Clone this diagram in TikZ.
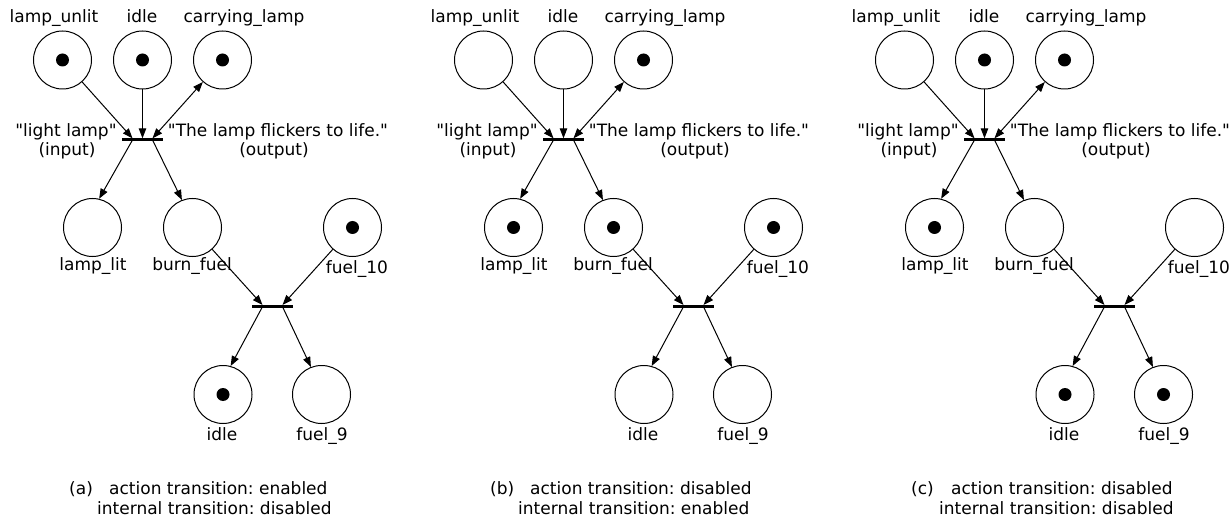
\documentclass[tikz,border=0pt]{standalone}
\usepackage{fontspec}
\setmainfont{DejaVu Sans}[Ligatures=TeXOff]
\usetikzlibrary{arrows.meta}
\frenchspacing

\tikzset{
  place/.style={circle, draw, line width=1pt, minimum size=58pt, inner sep=0pt},
  trans/.style={rectangle, fill=black, minimum width=41pt, minimum height=3pt, inner sep=0pt},
  lbl/.style={font=\fontsize{17}{20}\selectfont, anchor=base, inner sep=0pt},
  lblw/.style={lbl, anchor=base west},
  arc/.style={line width=1pt, -{Triangle[length=10pt,width=7.5pt]}},
  biarc/.style={line width=1pt, {Triangle[length=10pt,width=7.5pt]}-{Triangle[length=10pt,width=7.5pt]}},
}

% a token inside a place
\newcommand{\tok}[1]{\fill (#1) circle (6.5pt);}

% one copy of the net: #1 panel letter, #2 horizontal offset,
% #3 state of the action transition, #4 state of the internal transition
\newcommand{\petrinet}[4]{%
  \begin{scope}[xshift=#2pt]
    % places and transitions
    \node[place] (lu#1) at (62.5,60) {};
    \node[place] (id#1) at (142.5,60) {};
    \node[place] (cl#1) at (222.5,60) {};
    \node[trans] (ta#1) at (142.5,140) {};
    \node[place] (ll#1) at (92.5,227.5) {};
    \node[place] (bf#1) at (192.5,227.5) {};
    \node[place] (fa#1) at (352.5,227.5) {};
    \node[trans] (ti#1) at (272.5,306.7) {};
    \node[place] (ie#1) at (223,394.5) {};
    \node[place] (fb#1) at (321.5,394.5) {};
    % place names
    \node[lbl] (lulbl#1) at (54,23) {lamp\_unlit};
    \node[lbl] (idlbl#1) at (142,23) {idle};
    \node[lbl] (cllbl#1) at (244,23) {carrying\_lamp};
    \node[lbl] (ll lbl#1) at (93,270.5) {lamp\_lit};
    \node[lbl] (bflbl#1) at (192,270.5) {burn\_fuel};
    \node[lbl] (falbl#1) at (357,273.3) {fuel\_10};
    \node[lbl] (ielbl#1) at (222,440) {idle};
    \node[lbl] (fblbl#1) at (322,440) {fuel\_9};
    % action transition labels
    \node[lbl] (inlbl#1) at (66,136.2) {"light lamp"};
    \node[lbl] (inlblb#1) at (67,156) {(input)};
    \node[lbl] (outlbl#1) at (278,136.2) {"The lamp flickers to life."};
    \node[lbl] (outlblb#1) at (274,156) {(output)};
    % arcs of the action transition
    \draw[arc] (lu#1) -- ([xshift=-10pt]ta#1.north);
    \draw[arc] (id#1) -- (ta#1.north);
    \draw[biarc] (cl#1) -- ([xshift=10pt]ta#1.north);
    \draw[arc] ([xshift=-10pt]ta#1.center) -- (ll#1.77);
    \draw[arc] ([xshift=10pt]ta#1.center) -- (bf#1.111);
    % arcs of the internal transition
    \draw[arc] (bf#1) -- ([xshift=-10pt]ti#1.north);
    \draw[arc] (fa#1) -- ([xshift=10pt]ti#1.north);
    \draw[arc] ([xshift=-10pt]ti#1.center) -- (ie#1.75);
    \draw[arc] ([xshift=10pt]ti#1.center) -- (fb#1.111);
    % caption
    \node[lblw] (capl#1) at (69,494.5) {(#1)};
    \node[lblw] (capa#1) at (109,494.5) {action transition: #3};
    \node[lblw] (capi#1) at (97,514.5) {internal transition: #4};
  \end{scope}%
}

\begin{document}
\begin{tikzpicture}[x=1pt, y=-1pt]
  \useasboundingbox (0,0) rectangle (1231,521);

  \petrinet{a}{0}{enabled}{disabled}
  \petrinet{b}{421}{disabled}{enabled}
  \petrinet{c}{842}{disabled}{disabled}

  % markings
  \tok{lua} \tok{ida} \tok{cla} \tok{faa} \tok{iea}
  \tok{clb} \tok{llb} \tok{bfb} \tok{fab}
  \tok{idc} \tok{clc} \tok{llc} \tok{iec} \tok{fbc}
\end{tikzpicture}
\end{document}
